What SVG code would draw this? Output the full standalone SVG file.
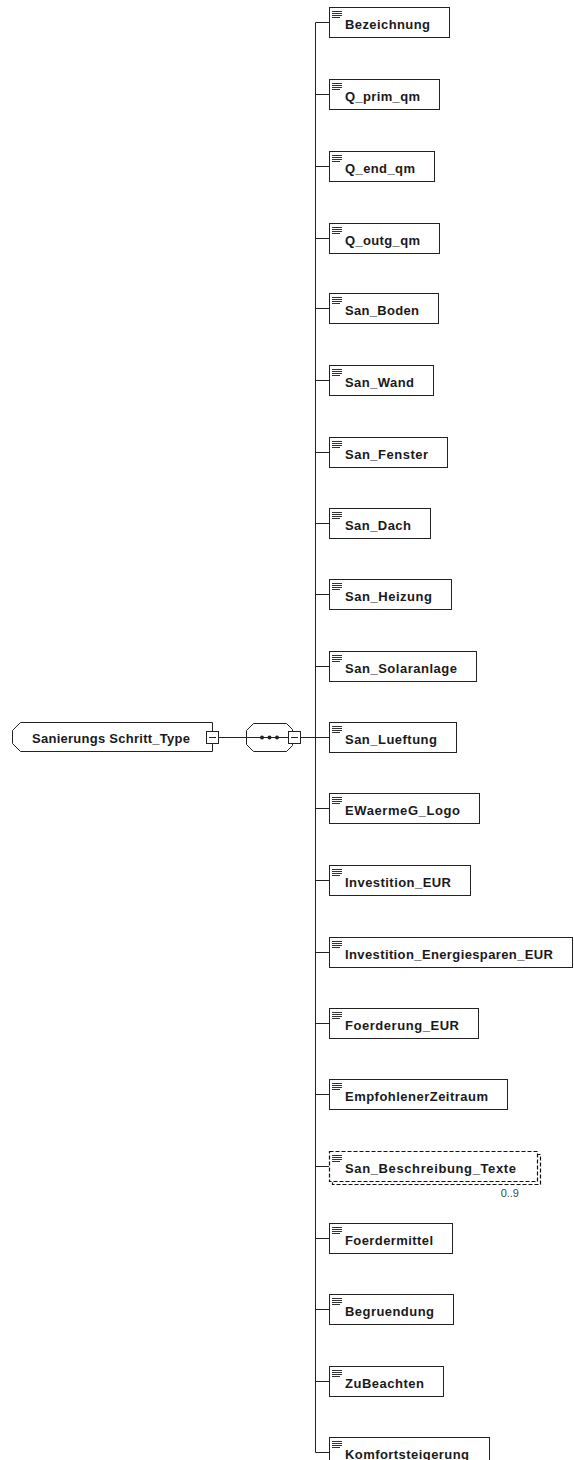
<svg xmlns="http://www.w3.org/2000/svg" width="574" height="1460" viewBox="0 0 574 1460">
<style>
.bx{fill:#fff;stroke:#222;stroke-width:1}
.dash{fill:#fff;stroke:#111;stroke-width:1.2;stroke-dasharray:4 2}
.ln{stroke:#222;stroke-width:1;fill:none}
.ic{stroke:#333;stroke-width:1}
.t{font-family:"Liberation Sans",Arial,sans-serif;font-weight:bold;font-size:13px;fill:#1a1a1a}
.c{font-family:"Liberation Sans",Arial,sans-serif;font-size:11px;fill:#444}
</style>
<defs>
<g id="icon"><path class="ic" d="M332 11.5H342M332 13.5H342M332 15.5H342M332 17.5H340"/></g>
</defs>
<rect width="574" height="1460" fill="#fff"/>
<g id="connectors">
<path class="ln" d="M315.5 22.5V1452.5"/>
<path class="ln" d="M315.5 22.5H329M315.5 94.5H329M315.5 166.5H329M315.5 238.5H329M315.5 308.5H329M315.5 380.5H329M315.5 452.5H329M315.5 523.5H329M315.5 594.5H329M315.5 666.5H329M315.5 737.5H329M315.5 808.5H329M315.5 880.5H329M315.5 952.5H329M315.5 1023.5H329M315.5 1094.5H329M315.5 1166.5H329M315.5 1238.5H329M315.5 1309.5H329M315.5 1381.5H329M315.5 1452.5H329"/>
<path class="ln" d="M218.5 737.5H246.5M300.5 737.5H315.5"/>
</g>
<g id="type">
<path class="bx" d="M20.5 722.5H212.5V751.5H20.5L12.5 743.5V730.5Z"/>
<text class="t" x="32" y="742.5" textLength="158" lengthAdjust="spacing">Sanierungs Schritt_Type</text>
<rect class="bx" x="206.5" y="731.5" width="12" height="12"/>
<path class="ln" d="M209 737.5H216"/>
</g>
<g id="sequence">
<polygon class="bx" points="253.5,723.5 286.5,723.5 292.5,729.5 292.5,745.5 286.5,751.5 253.5,751.5 246.5,744.5 246.5,730.5"/>
<path class="ln" d="M246.5 737.5H289"/>
<circle cx="262" cy="737.5" r="2" fill="#222"/>
<circle cx="269.5" cy="737.5" r="2" fill="#222"/>
<circle cx="277" cy="737.5" r="2" fill="#222"/>
<rect class="bx" x="288.5" y="731.5" width="12" height="12"/>
<path class="ln" d="M291 737.5H298"/>
</g>
<g id="e0"><rect class="bx" x="329.5" y="7.5" width="120" height="30"/><use href="#icon" y="0"/><text class="t" x="345" y="29" textLength="85" lengthAdjust="spacing">Bezeichnung</text></g>
<g id="e1"><rect class="bx" x="329.5" y="79.5" width="110" height="30"/><use href="#icon" y="72"/><text class="t" x="345" y="101" textLength="75" lengthAdjust="spacing">Q_prim_qm</text></g>
<g id="e2"><rect class="bx" x="329.5" y="151.5" width="105" height="30"/><use href="#icon" y="144"/><text class="t" x="345" y="173" textLength="70" lengthAdjust="spacing">Q_end_qm</text></g>
<g id="e3"><rect class="bx" x="329.5" y="223.5" width="110" height="30"/><use href="#icon" y="216"/><text class="t" x="345" y="245" textLength="75" lengthAdjust="spacing">Q_outg_qm</text></g>
<g id="e4"><rect class="bx" x="329.5" y="293.5" width="109" height="30"/><use href="#icon" y="286"/><text class="t" x="345" y="315" textLength="74" lengthAdjust="spacing">San_Boden</text></g>
<g id="e5"><rect class="bx" x="329.5" y="365.5" width="104" height="30"/><use href="#icon" y="358"/><text class="t" x="345" y="387" textLength="69" lengthAdjust="spacing">San_Wand</text></g>
<g id="e6"><rect class="bx" x="329.5" y="437.5" width="118" height="30"/><use href="#icon" y="430"/><text class="t" x="345" y="459" textLength="83" lengthAdjust="spacing">San_Fenster</text></g>
<g id="e7"><rect class="bx" x="329.5" y="508.5" width="101" height="30"/><use href="#icon" y="501"/><text class="t" x="345" y="530" textLength="66" lengthAdjust="spacing">San_Dach</text></g>
<g id="e8"><rect class="bx" x="329.5" y="579.5" width="122" height="30"/><use href="#icon" y="572"/><text class="t" x="345" y="601" textLength="87" lengthAdjust="spacing">San_Heizung</text></g>
<g id="e9"><rect class="bx" x="329.5" y="651.5" width="147" height="30"/><use href="#icon" y="644"/><text class="t" x="345" y="673" textLength="112" lengthAdjust="spacing">San_Solaranlage</text></g>
<g id="e10"><rect class="bx" x="329.5" y="722.5" width="127" height="30"/><use href="#icon" y="715"/><text class="t" x="345" y="744" textLength="92" lengthAdjust="spacing">San_Lueftung</text></g>
<g id="e11"><rect class="bx" x="329.5" y="793.5" width="150" height="30"/><use href="#icon" y="786"/><text class="t" x="345" y="815" textLength="115" lengthAdjust="spacing">EWaermeG_Logo</text></g>
<g id="e12"><rect class="bx" x="329.5" y="865.5" width="141" height="30"/><use href="#icon" y="858"/><text class="t" x="345" y="887" textLength="106" lengthAdjust="spacing">Investition_EUR</text></g>
<g id="e13"><rect class="bx" x="329.5" y="937.5" width="243" height="30"/><use href="#icon" y="930"/><text class="t" x="345" y="959" textLength="208" lengthAdjust="spacing">Investition_Energiesparen_EUR</text></g>
<g id="e14"><rect class="bx" x="329.5" y="1008.5" width="149" height="30"/><use href="#icon" y="1001"/><text class="t" x="345" y="1030" textLength="114" lengthAdjust="spacing">Foerderung_EUR</text></g>
<g id="e15"><rect class="bx" x="329.5" y="1079.5" width="178" height="30"/><use href="#icon" y="1072"/><text class="t" x="345" y="1101" textLength="143" lengthAdjust="spacing">EmpfohlenerZeitraum</text></g>
<g id="e16"><rect class="dash" x="332.5" y="1154.5" width="208" height="30"/><rect class="dash" x="329.5" y="1151.5" width="208" height="30"/><use href="#icon" y="1144"/><text class="t" x="345" y="1173" textLength="171" lengthAdjust="spacing">San_Beschreibung_Texte</text><text class="c" x="519" y="1197" text-anchor="end">0..9</text></g>
<g id="e17"><rect class="bx" x="329.5" y="1223.5" width="123" height="30"/><use href="#icon" y="1216"/><text class="t" x="345" y="1245" textLength="88" lengthAdjust="spacing">Foerdermittel</text></g>
<g id="e18"><rect class="bx" x="329.5" y="1294.5" width="124" height="30"/><use href="#icon" y="1287"/><text class="t" x="345" y="1316" textLength="89" lengthAdjust="spacing">Begruendung</text></g>
<g id="e19"><rect class="bx" x="329.5" y="1366.5" width="114" height="30"/><use href="#icon" y="1359"/><text class="t" x="345" y="1388" textLength="79" lengthAdjust="spacing">ZuBeachten</text></g>
<g id="e20"><rect class="bx" x="329.5" y="1437.5" width="160" height="30"/><use href="#icon" y="1430"/><text class="t" x="345" y="1459" textLength="124" lengthAdjust="spacing">Komfortsteigerung</text></g>
</svg>
